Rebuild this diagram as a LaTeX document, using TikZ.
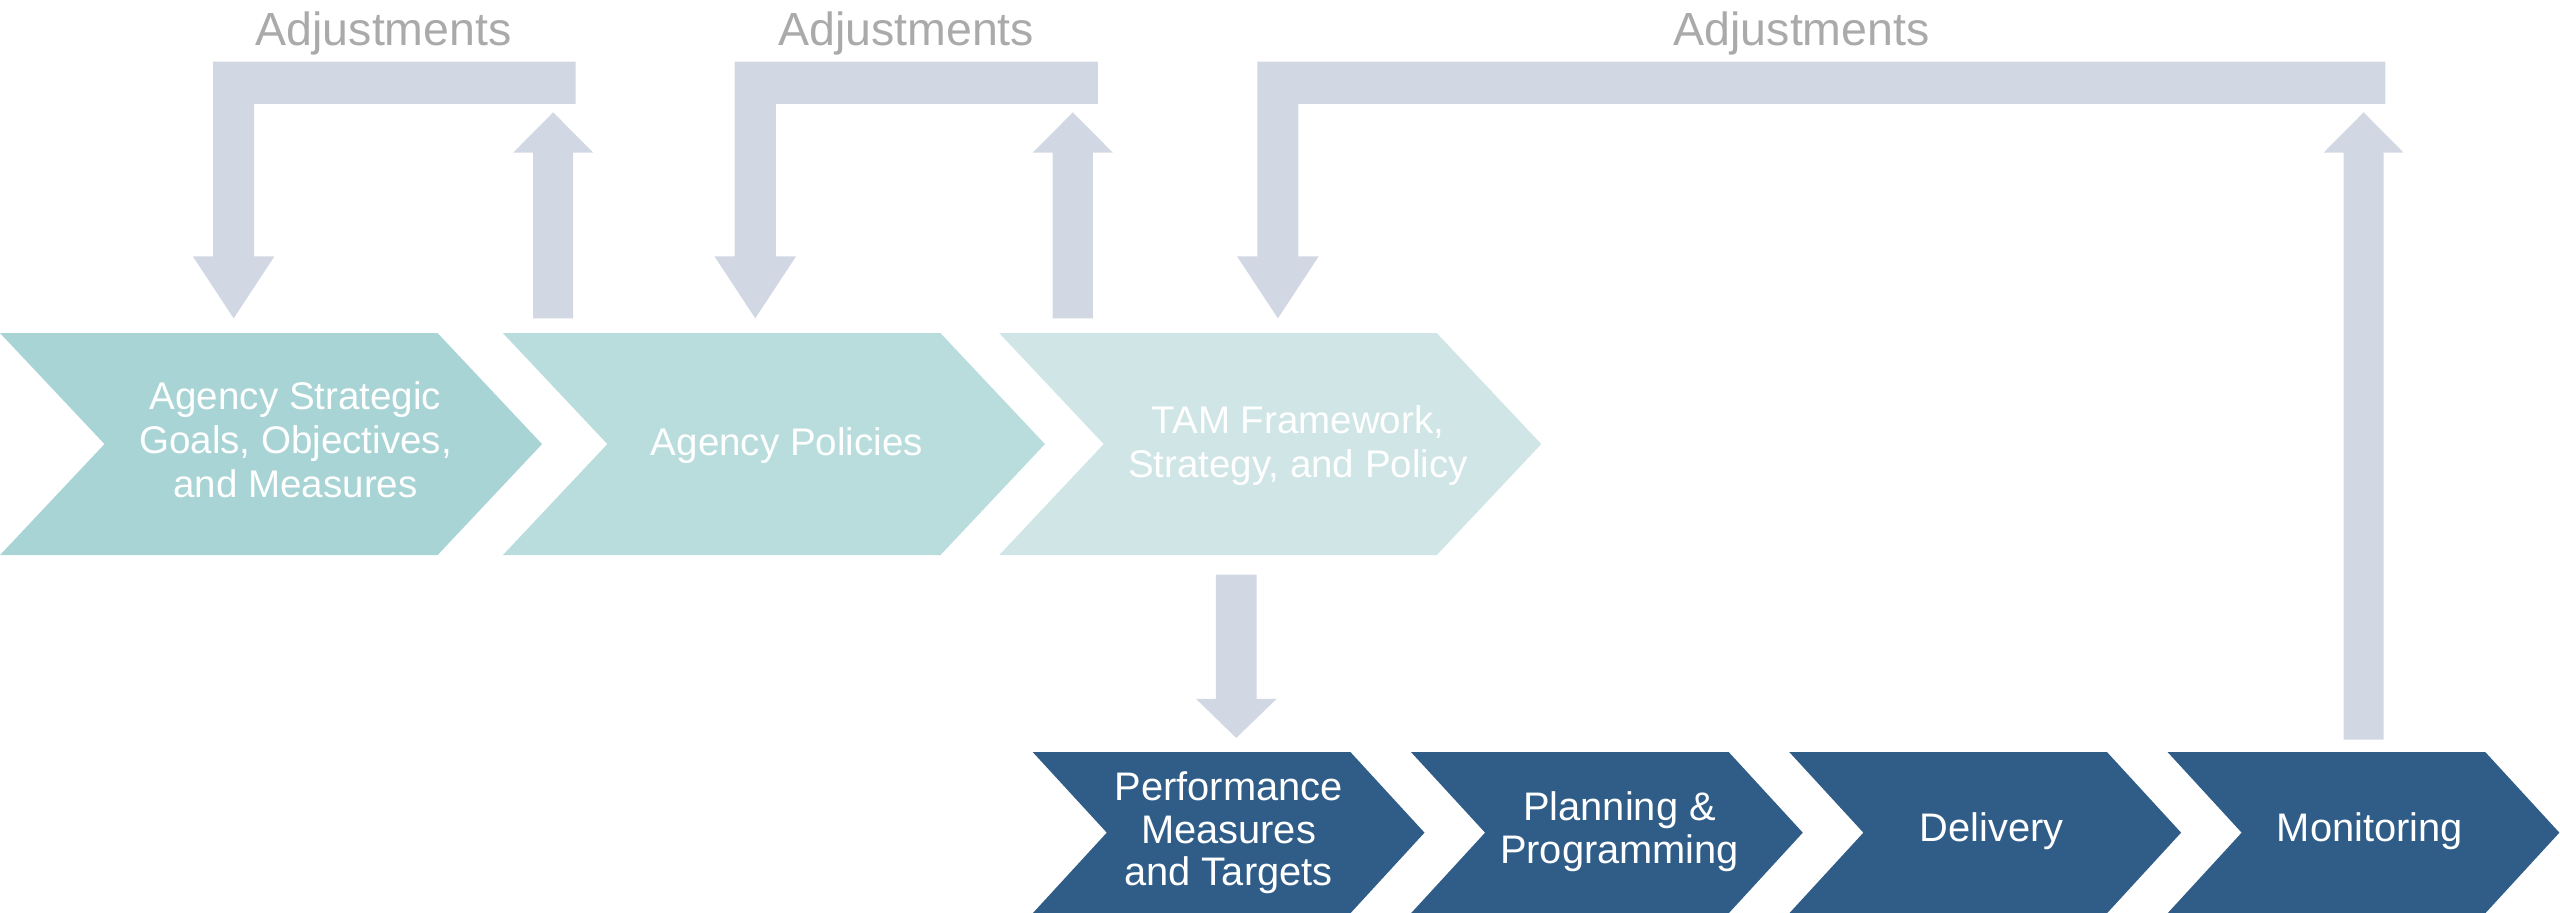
\documentclass[tikz,border=0pt]{standalone}
\usepackage{fontspec}
\setmainfont{Liberation Sans}
\definecolor{tealA}{HTML}{A8D4D5}
\definecolor{tealB}{HTML}{B9DDDD}
\definecolor{tealC}{HTML}{D0E5E6}
\definecolor{navy}{HTML}{305D88}
\definecolor{arrowc}{HTML}{D1D8E4}
\definecolor{adjgray}{HTML}{AAAAAA}
\newcommand\mychev[7]{%
  \fill[#7] (#1,#2) -- ({#1+#5-#6},#2) -- ({#1+#5},#4) -- ({#1+#5-#6},#3) -- (#1,#3) -- ({#1+#6},#4) -- cycle;}
\newcommand\fbdown[2]{%
  \fill[arrowc] ({#1-12.6},37.8) -- (#2,37.8) -- (#2,63.7) -- ({#1+12.6},63.7) -- ({#1+12.6},157) -- ({#1+25},157) -- (#1,195) -- ({#1-25},157) -- ({#1-12.6},157) -- cycle;}
\newcommand\fbup[2]{%
  \fill[arrowc] ({#1-12.3},#2) -- ({#1-12.3},93.5) -- ({#1-24.5},93.5) -- (#1,68.8) -- ({#1+24.5},93.5) -- ({#1+12.3},93.5) -- ({#1+12.3},#2) -- cycle;}
\begin{document}
\begin{tikzpicture}[x=1pt,y=-1pt,
  toplbl/.style={text=white, align=center, inner sep=0pt, font=\fontsize{23.6}{27}\selectfont},
  botlbl/.style={text=white, align=center, inner sep=0pt, font=\fontsize{24.4}{26}\selectfont},
  adj/.style={text=adjgray, font=\fontsize{28.5}{34}\selectfont, anchor=base, inner sep=0pt}]
\useasboundingbox (0,0) rectangle (1568,559);
% top chevrons
\mychev{0}{204}{340}{272}{332}{64}{tealA}
\mychev{308}{204}{340}{272}{332}{64}{tealB}
\mychev{612}{204}{340}{272}{332}{64}{tealC}
% bottom chevrons
\mychev{632.5}{460.6}{559.4}{510}{240}{45.4}{navy}
\mychev{864.2}{460.6}{559.4}{510}{240}{45.4}{navy}
\mychev{1095.9}{460.6}{559.4}{510}{240}{45.4}{navy}
\mychev{1327.6}{460.6}{559.4}{510}{240}{45.4}{navy}
% labels
\node[toplbl] (s1) at (181,272.6) {\strut Agency Strategic\\Goals, Objectives,\\and Measures\strut};
\node[toplbl] (s2) at (482,273.3) {\strut Agency Policies};
\node[toplbl] (s3) at (795,273.5) {\strut TAM Framework,\\Strategy, and Policy\strut};
\node[botlbl] (p1) at (752.5,511.3) {\strut Performance\\Measures\\and Targets\strut};
\node[botlbl] (p2) at (992,510.6) {\strut Planning \&\\Programming\strut};
\node[botlbl] (p3) at (1220,510.2) {\strut Delivery};
\node[botlbl] (p4) at (1451.6,510.2) {\strut Monitoring};
% feedback arrows
\fbdown{143.1}{352.5}
\fbup{338.8}{195}
\fbdown{462.6}{672.4}
\fbup{657.1}{195}
\fbdown{782.7}{1461}
\fbup{1447.7}{453}
% TAM down arrow
\fill[arrowc] (744.7,352) -- (769.7,352) -- (769.7,428) -- (782,428) -- (757.2,452) -- (732.5,428) -- (744.7,428) -- cycle;
% adjustments labels
\node[adj] (a1) at (235,27.6) {Adjustments};
\node[adj] (a2) at (555,27.6) {Adjustments};
\node[adj] (a3) at (1103.5,27.6) {Adjustments};
\end{tikzpicture}
\end{document}
